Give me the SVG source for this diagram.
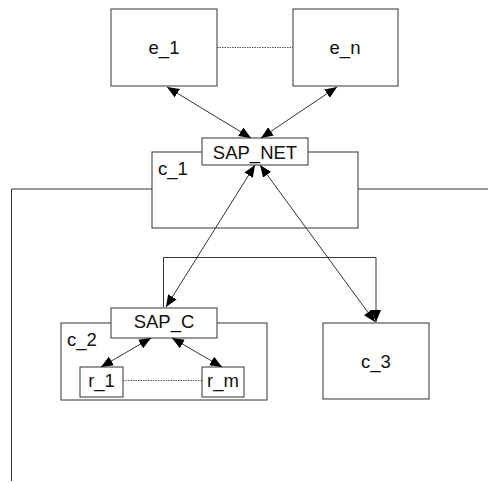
<svg xmlns="http://www.w3.org/2000/svg" width="488" height="483" viewBox="0 0 488 483">
<style>
.box{fill:#fff;stroke:#333;stroke-width:1}
.lbl{font-family:"Liberation Sans",Arial,sans-serif;font-size:18.5px;fill:#111}
.c{text-anchor:middle}
.con{fill:none;stroke:#333;stroke-width:1}
.dot{fill:none;stroke:#555;stroke-width:1;stroke-dasharray:1.5,1}
</style>
<defs>
<marker id="ah" viewBox="0 0 12 10" refX="12" refY="5" markerWidth="12" markerHeight="10" markerUnits="userSpaceOnUse" orient="auto-start-reverse">
<path d="M0,0 L12,5 L0,10 Z" fill="#000"/>
</marker>
</defs>
<g id="outer-lines">
<path class="con" d="M152,189 H11.5 V481"/>
<path class="con" d="M358,189 H488"/>
</g>
<g id="c_1"><rect class="box" x="152" y="152" width="206" height="76"/><text class="lbl" x="158" y="175">c_1</text></g>
<g id="SAP_NET"><rect class="box" x="202" y="138" width="106" height="27"/><text class="lbl c" x="255" y="159">SAP_NET</text></g>
<g id="e_1"><rect class="box" x="111" y="9" width="106" height="77"/><text class="lbl c" x="164" y="54">e_1</text></g>
<g id="e_n"><rect class="box" x="293" y="9" width="105" height="77"/><text class="lbl c" x="345" y="54">e_n</text></g>
<g id="c_2"><rect class="box" x="61" y="323" width="206" height="77"/><text class="lbl" x="67" y="346">c_2</text></g>
<g id="SAP_C"><rect class="box" x="111" y="308" width="106" height="30"/><text class="lbl c" x="164" y="328">SAP_C</text></g>
<g id="r_1"><rect class="box" x="80" y="367" width="43" height="30"/><text class="lbl c" x="101.5" y="387">r_1</text></g>
<g id="r_m"><rect class="box" x="202" y="367" width="42" height="30"/><text class="lbl c" x="223" y="387">r_m</text></g>
<g id="c_3"><rect class="box" x="323" y="323" width="106" height="76"/><text class="lbl c" x="376" y="368">c_3</text></g>
<g id="connectors">
<path class="dot" d="M217,47.5 H293"/>
<path class="dot" d="M123,380.5 H202"/>
<path class="con" d="M167,87 L251,138" marker-start="url(#ah)" marker-end="url(#ah)"/>
<path class="con" d="M337,87 L261,138" marker-start="url(#ah)" marker-end="url(#ah)"/>
<path class="con" d="M255,165 L166,307" marker-start="url(#ah)" marker-end="url(#ah)"/>
<path class="con" d="M260,165 L375,322" marker-start="url(#ah)" marker-end="url(#ah)"/>
<path class="con" d="M163.5,307 V257.5 H376 V322" marker-end="url(#ah)"/>
<path class="con" d="M151,338 L101,367" marker-start="url(#ah)" marker-end="url(#ah)"/>
<path class="con" d="M172,338 L222,367" marker-start="url(#ah)" marker-end="url(#ah)"/>
</g>
</svg>
